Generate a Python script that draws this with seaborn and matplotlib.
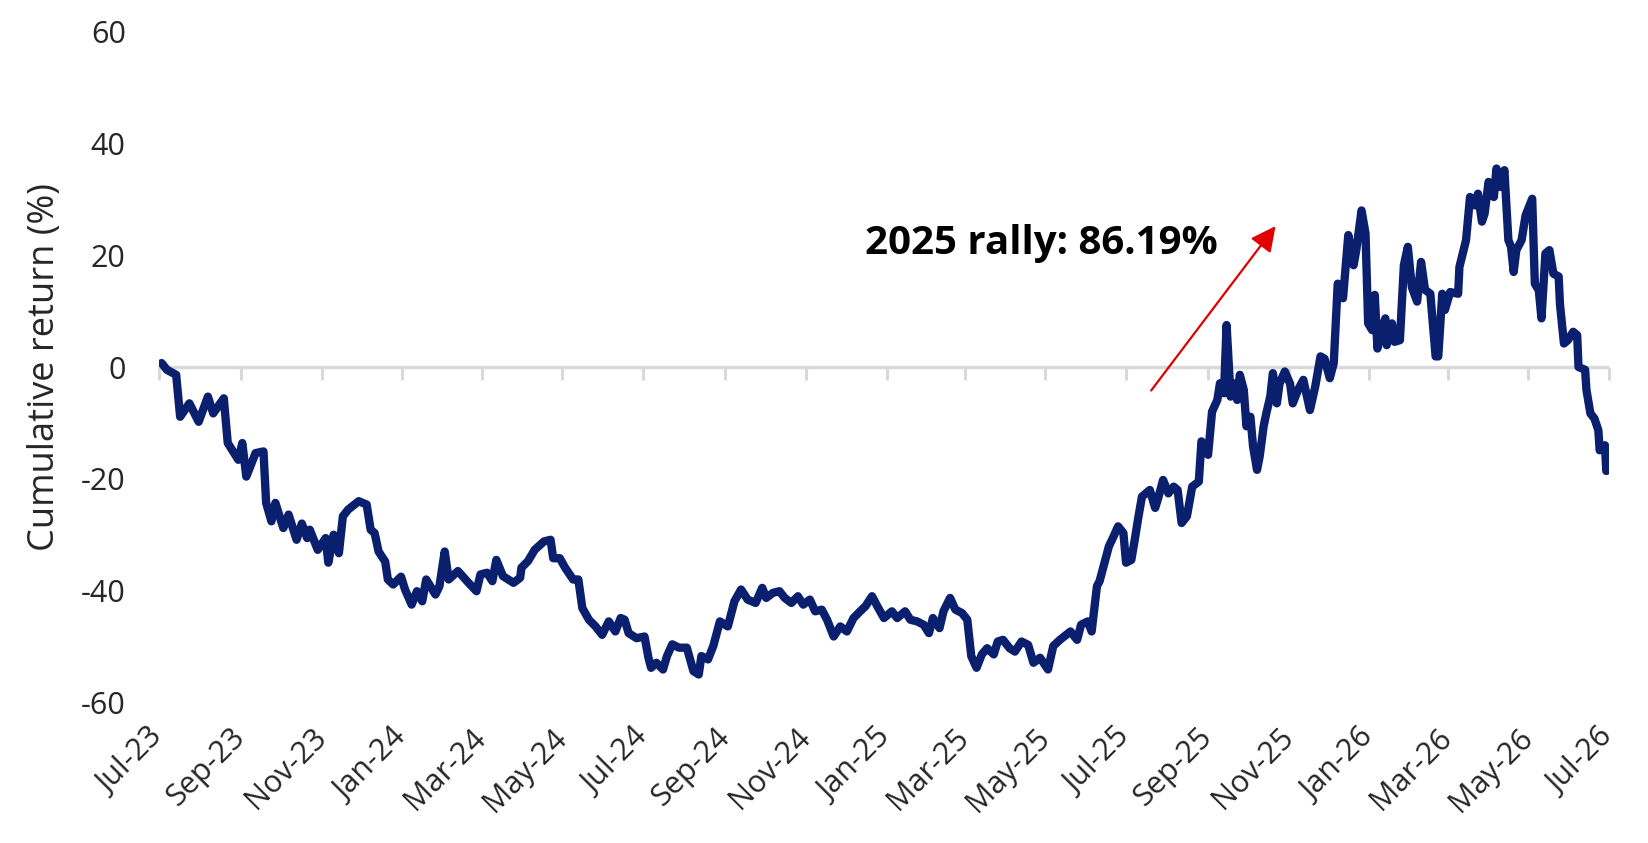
import pandas as pd
import matplotlib.pyplot as plt
import matplotlib.dates as mdates
import seaborn as sns

# days since 1 Jul 2023
day_offsets = [
    2, 6, 13, 16, 23, 30, 37, 41, 49, 52, 60, 63, 66, 73, 79, 81, 85, 88, 94, 98,
    104, 108, 112, 114, 120, 126, 128, 132, 136, 139, 143, 151, 157, 160, 163, 166,
    171, 173, 177, 183, 186, 191, 195, 199, 202, 209, 212, 216, 219, 226, 234, 240,
    243, 248, 252, 255, 260, 268, 273, 274, 279, 284, 291, 296, 298, 303, 307, 313,
    317, 320, 325, 330, 335, 340, 345, 349, 352, 355, 361, 367, 370, 372, 376, 381,
    384, 388, 393, 399, 404, 408, 410, 415, 419, 424, 430, 435, 440, 445, 451, 456,
    459, 464, 469, 473, 478, 483, 487, 492, 496, 501, 505, 510, 515, 520, 525, 530,
    534, 539, 543, 548, 554, 558, 564, 568, 573, 578, 582, 585, 590, 593, 598, 602,
    607, 611, 614, 618, 622, 626, 631, 634, 638, 643, 647, 652, 657, 661, 666, 672,
    676, 681, 689, 694, 697, 702, 705, 709, 711, 718, 721, 725, 729, 731, 735, 738,
    740, 743, 749, 753, 755, 759, 763, 767, 770, 773, 777, 781, 786, 788, 793, 796,
    800, 802, 805, 807, 810, 812, 815, 817, 820, 822, 825, 827, 830, 832, 835, 837,
    840, 842, 845, 847, 851, 855, 857, 861, 865, 870, 874, 878, 881, 885, 888, 891,
    895, 899, 903, 905, 909, 912, 914, 917, 919, 921, 924, 927, 928, 932, 934, 938,
    941, 944, 947, 951, 954, 957, 961, 965, 967, 970, 972, 976, 982, 983, 988, 991,
    995, 997, 1000, 1002, 1005, 1009, 1011, 1014, 1017, 1020, 1022, 1024, 1026, 1030,
    1033, 1038, 1040, 1043, 1045, 1048, 1051, 1054, 1058, 1059, 1062, 1065, 1069,
    1072, 1073, 1078, 1079, 1082, 1085, 1088, 1089, 1093, 1094, 1096,
]

cum_return = [
    0.7, -0.5, -1.4, -8.9, -6.5, -9.8, -5.3, -8.3, -5.6, -13.6, -16.6, -13.6, -19.6,
    -15.4, -15.1, -24.3, -27.6, -24.3, -28.8, -26.4, -30.9, -28.0, -30.6, -29.1,
    -32.7, -30.6, -35.0, -30.0, -33.3, -26.7, -25.5, -24.0, -24.6, -29.1, -29.7,
    -33.0, -34.8, -38.0, -38.9, -37.5, -39.8, -42.5, -40.1, -41.9, -38.0, -40.7,
    -39.2, -33.0, -38.0, -36.5, -38.6, -40.1, -37.1, -36.8, -38.3, -34.5, -37.4,
    -38.6, -37.7, -35.9, -34.7, -32.7, -31.2, -30.9, -34.2, -34.2, -35.9, -38.0,
    -38.0, -43.1, -45.2, -46.4, -47.9, -45.5, -47.3, -44.9, -45.2, -47.6, -48.5,
    -48.2, -52.0, -53.8, -52.9, -54.1, -51.7, -49.6, -50.2, -50.2, -54.4, -55.0,
    -51.7, -52.3, -49.9, -45.5, -46.4, -41.9, -39.8, -41.6, -42.2, -39.5, -41.3,
    -40.4, -40.1, -41.3, -42.2, -41.0, -42.5, -41.6, -43.7, -43.4, -45.2, -48.2,
    -46.4, -47.3, -44.9, -43.7, -42.8, -41.0, -42.8, -44.9, -43.7, -44.9, -43.7,
    -45.2, -45.5, -46.1, -47.6, -44.9, -46.7, -43.7, -41.3, -43.4, -44.0, -45.2,
    -51.7, -53.8, -51.4, -50.3, -51.4, -49.1, -48.8, -50.3, -50.9, -49.1, -49.7,
    -52.9, -52.0, -54.1, -49.9, -48.8, -47.3, -48.8, -46.1, -45.5, -47.3, -39.2,
    -38.3, -32.1, -30.6, -28.5, -29.7, -35.0, -34.5, -30.3, -27.3, -23.2, -22.0,
    -25.2, -23.7, -20.2, -22.6, -21.4, -22.0, -27.9, -26.7, -21.4, -20.5, -13.3,
    -15.7, -8.0, -5.9, -2.9, -4.7, 7.5, -5.3, -2.9, -5.9, -1.4, -4.1, -10.6, -8.9,
    -14.2, -18.4, -16.0, -10.6, -8.3, -5.3, -1.1, -6.5, -3.0, -0.8, -3.0, -6.5,
    -4.1, -2.3, -7.7, -3.5, 1.9, 1.5, -2.0, 0.7, 14.9, 12.3, 23.6, 18.2, 20.9,
    28.0, 23.9, 7.8, 6.6, 12.9, 3.3, 6.6, 8.7, 3.9, 7.8, 4.5, 4.8, 18.2, 21.5,
    14.3, 11.7, 18.8, 13.8, 13.1, 1.9, 1.9, 13.1, 10.2, 13.4, 13.1, 17.9, 22.7,
    30.4, 28.9, 31.0, 26.0, 27.4, 33.1, 30.4, 35.5, 32.2, 35.2, 22.7, 21.5, 17.0,
    20.9, 22.7, 27.1, 30.1, 14.9, 13.7, 8.7, 20.3, 20.9, 16.7, 16.2, 11.2, 4.2,
    4.8, 6.3, 5.7, 0.0, -0.5, -4.1, -8.3, -9.2, -11.3, -14.9, -14.0, -18.6, -18.3,
]

start = pd.Timestamp("2023-07-01")
df = pd.DataFrame({
    "Date": start + pd.to_timedelta(day_offsets, unit="D"),
    "Return": cum_return,
})

sns.set_style("white")
plt.rcParams['font.family'] = ['Open Sans', 'DejaVu Sans']
plt.rcParams['axes.unicode_minus'] = False

fig, ax = plt.subplots(figsize=(16.49, 8.43), dpi=100)
fig.subplots_adjust(left=0.0964, right=0.9757, top=0.9626, bottom=0.1667)

sns.lineplot(data=df, x="Date", y="Return", color="#0a1f6e", linewidth=6,
             solid_joinstyle="round", solid_capstyle="round", ax=ax, zorder=3)

ax.set_xlim(pd.Timestamp("2023-07-01"), pd.Timestamp("2026-07-01"))
ax.set_ylim(-60, 60)
ax.set_yticks(range(-60, 61, 20))

months = mdates.MonthLocator(bymonth=[1, 3, 5, 7, 9, 11])
ax.xaxis.set_major_locator(months)
ax.xaxis.set_major_formatter(mdates.DateFormatter("%b-%y"))

for s in ax.spines.values():
    s.set_visible(False)

ax.tick_params(axis="x", length=0, labelsize=22, pad=22)
ax.tick_params(axis="y", length=0, labelsize=22, pad=24)
for lab in ax.get_xticklabels():
    lab.set_rotation(45)
    lab.set_ha("right")
    lab.set_va("center")
    lab.set_rotation_mode("anchor")

# grey zero line with small tick marks hanging below it
ax.axhline(0, color="#d9d9d9", linewidth=2.5, zorder=1)
zero = ax.secondary_xaxis(0.5)
zero.xaxis.set_major_locator(mdates.MonthLocator(bymonth=[1, 3, 5, 7, 9, 11]))
zero.xaxis.set_ticks_position("bottom")
zero.tick_params(axis="x", bottom=True, top=False, labelbottom=False,
                 labeltop=False, direction="out", length=9, width=2.2,
                 color="#d9d9d9")
for s in zero.spines.values():
    s.set_visible(False)

ax.set_xlabel("")
ax.set_ylabel("Cumulative return (%)", fontsize=26)
ax.yaxis.set_label_coords(-0.066, 0.5)

ax.annotate("", xy=(pd.Timestamp("2025-10-22"), 25.2),
            xytext=(pd.Timestamp("2025-07-20"), -4.2),
            arrowprops=dict(arrowstyle="-|>", color="#e00000", lw=1.6,
                            mutation_scale=38, shrinkA=0, shrinkB=0))
ax.text(pd.Timestamp("2024-12-16"), 22.1, "2025 rally: 86.19%",
        fontsize=29, fontweight="bold", ha="left", va="center", color="black")

plt.savefig("out.png", dpi=100)
